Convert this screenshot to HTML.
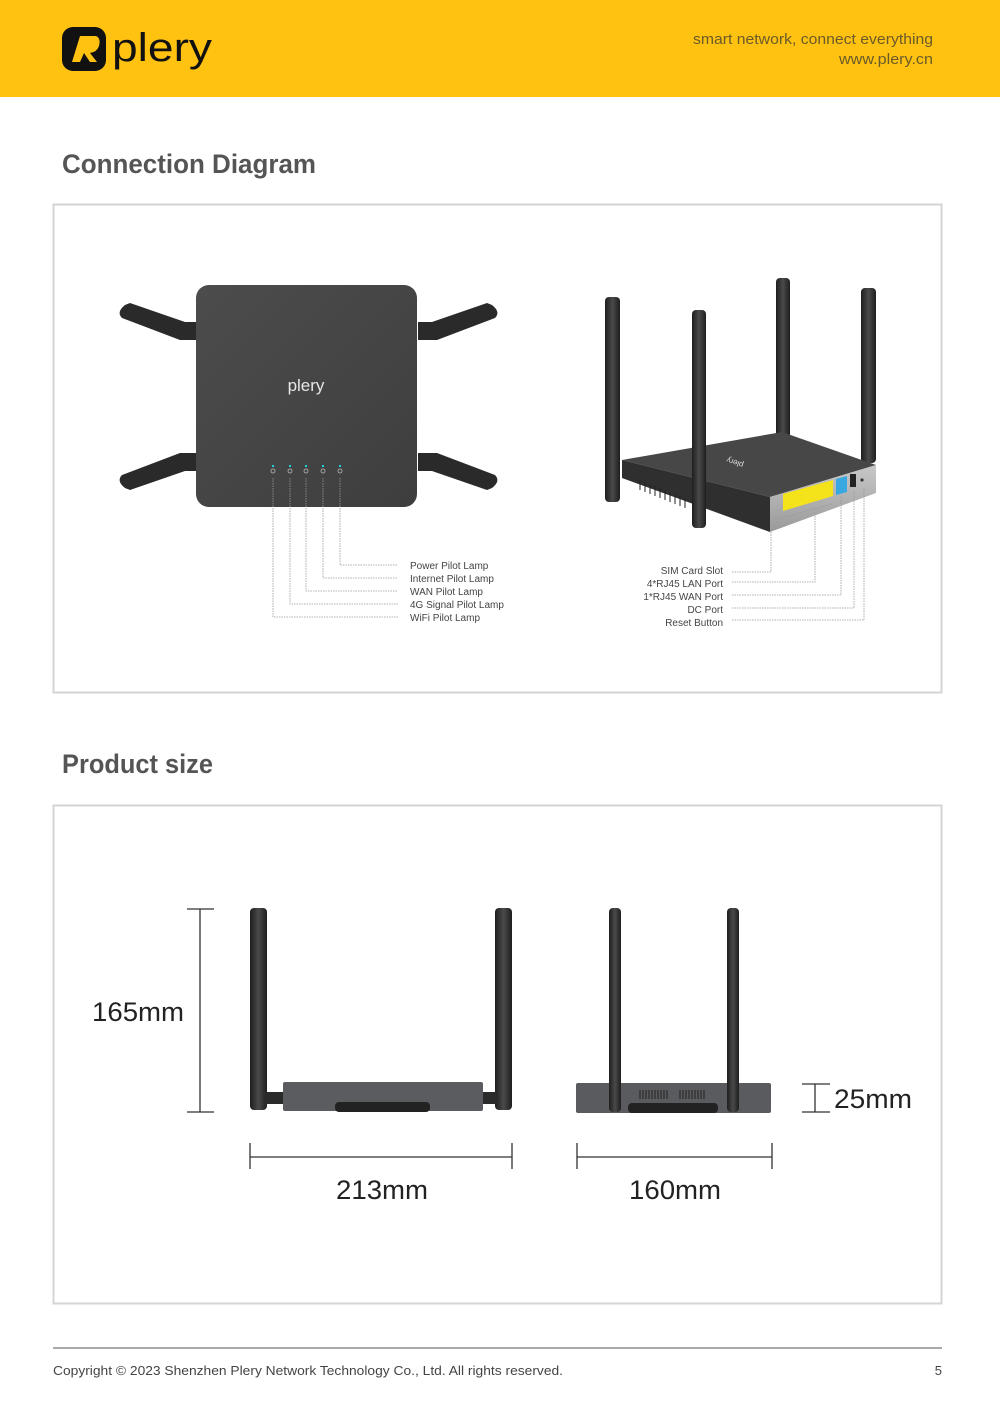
<!DOCTYPE html>
<html><head><meta charset="utf-8"><style>
html,body{margin:0;padding:0;background:#fff}
svg{display:block}
text{font-family:"Liberation Sans",sans-serif}
</style></head><body>
<svg width="1000" height="1414" viewBox="0 0 1000 1414" xmlns="http://www.w3.org/2000/svg">
<defs>
<linearGradient id="tg" x1="0" y1="0" x2="1" y2="1"><stop offset="0" stop-color="#4c4c4c"/><stop offset="1" stop-color="#3e3e3e"/></linearGradient>
<linearGradient id="ag" x1="0" y1="0" x2="1" y2="0"><stop offset="0" stop-color="#1e1e1e"/><stop offset="0.5" stop-color="#4a4a4a"/><stop offset="1" stop-color="#1e1e1e"/></linearGradient>
<linearGradient id="fg" x1="0" y1="0" x2="0" y2="1"><stop offset="0" stop-color="#c8c8c8"/><stop offset="1" stop-color="#9a9a9a"/></linearGradient>
</defs>
<!-- header -->
<rect x="0" y="0" width="1000" height="97" fill="#FFC211"/>
<rect x="62" y="27" width="44" height="44" rx="11" fill="#111"/>
<path d="M72 62 L80 36 L96 36 Q101 38 99 46 Q97 52 90 53 L97 62 L90 62 L84 53 L80 62 Z" fill="#FFC211"/>
<text x="112" y="61" font-size="40" fill="#111" textLength="100" lengthAdjust="spacingAndGlyphs">plery</text>
<text x="933" y="44" font-size="15" fill="#6b5a2a" text-anchor="end" textLength="240" lengthAdjust="spacingAndGlyphs">smart network, connect everything</text>
<text x="933" y="64" font-size="15" fill="#6b5a2a" text-anchor="end" textLength="94" lengthAdjust="spacingAndGlyphs">www.plery.cn</text>

<text x="62" y="173" font-size="27" font-weight="bold" fill="#555" textLength="254" lengthAdjust="spacingAndGlyphs">Connection Diagram</text>
<rect x="53.5" y="204.5" width="888" height="488" fill="none" stroke="#d4d4d4" stroke-width="2"/>

<!-- top-view router -->
<g>
<g fill="#2a2a2a">
<path d="M125 305 L130 303 L185 322 L196 322 L196 340 L180 340 L122 318 Q116 312 125 305Z"/>
<path d="M492 305 L487 303 L432 322 L418 322 L418 340 L437 340 L495 318 Q501 312 492 305Z"/>
<path d="M125 488 L130 490 L185 471 L196 471 L196 453 L180 453 L122 475 Q116 481 125 488Z"/>
<path d="M492 488 L487 490 L432 471 L418 471 L418 453 L437 453 L495 475 Q501 481 492 488Z"/>
</g>
<rect x="196" y="285" width="221" height="222" rx="13" fill="url(#tg)"/>
<text x="306" y="391" font-size="17" fill="#e6e6e6" text-anchor="middle">plery</text>
<g fill="#20d0d8"><rect x="272" y="465" width="2" height="2"/><rect x="289" y="465" width="2" height="2"/><rect x="305" y="465" width="2" height="2"/><rect x="322" y="465" width="2" height="2"/><rect x="339" y="465" width="2" height="2"/></g>
<g fill="none" stroke="#bbb" stroke-width="0.8"><circle cx="273" cy="471" r="2"/><circle cx="290" cy="471" r="2"/><circle cx="306" cy="471" r="2"/><circle cx="323" cy="471" r="2"/><circle cx="340" cy="471" r="2"/></g>
</g>
<g fill="none" stroke="#999" stroke-width="0.8" stroke-dasharray="1.5,1">
<path d="M340 478 V565 H398"/><path d="M323 478 V578 H398"/><path d="M306 478 V591 H398"/><path d="M290 478 V604 H398"/><path d="M273 478 V617 H398"/>
</g>
<g font-size="10" fill="#444">
<text x="410" y="569">Power Pilot Lamp</text>
<text x="410" y="582">Internet Pilot Lamp</text>
<text x="410" y="595">WAN Pilot Lamp</text>
<text x="410" y="608">4G Signal Pilot Lamp</text>
<text x="410" y="621">WiFi Pilot Lamp</text>
</g>

<!-- perspective router -->
<g>
<rect x="776" y="278" width="14" height="165" rx="4" fill="url(#ag)"/>
<rect x="861" y="288" width="15" height="175" rx="4" fill="url(#ag)"/>
<polygon points="622,460 782,432 876,465 770,497" fill="#474747"/>
<polygon points="622,460 770,497 770,532 622,478" fill="#2f2f2f"/>
<polygon points="770,497 876,465 876,493 770,532" fill="url(#fg)"/>
<g stroke="#222" stroke-width="1">
<path d="M640 480 V490 M645 482 V492 M650 484 V494 M655 486 V496 M660 488 V498 M665 490 V500 M670 492 V502 M675 494 V504 M680 496 V506 M685 498 V508"/>
</g>
<polygon points="783,494 833,480 833,496 783,511" fill="#f4e21a"/>
<polygon points="836,479 847,476 847,492 836,495" fill="#3aa8e0"/>
<rect x="850" y="474" width="6" height="13" fill="#222"/>
<circle cx="862" cy="480" r="1.6" fill="#333"/>
<text x="744" y="463" font-size="8" fill="#ddd" transform="rotate(-160 744 463)">plery</text>
<rect x="605" y="297" width="15" height="205" rx="4" fill="url(#ag)"/>
<rect x="692" y="310" width="14" height="218" rx="4" fill="url(#ag)"/>
</g>
<g fill="none" stroke="#999" stroke-width="0.8" stroke-dasharray="1.5,1">
<path d="M732 572 H771 V530"/><path d="M732 582 H815 V512"/><path d="M732 595 H841 V496"/><path d="M732 608 H854 V490"/><path d="M732 620 H864 V488"/>
<path d="M780 518 L832 504"/>
</g>
<g font-size="10" fill="#444" text-anchor="end">
<text x="723" y="574">SIM Card Slot</text>
<text x="723" y="587">4*RJ45 LAN Port</text>
<text x="723" y="600">1*RJ45 WAN Port</text>
<text x="723" y="613">DC Port</text>
<text x="723" y="626">Reset Button</text>
</g>

<text x="62" y="773" font-size="27" font-weight="bold" fill="#555" textLength="151" lengthAdjust="spacingAndGlyphs">Product size</text>
<rect x="53.5" y="805.5" width="888" height="498" fill="none" stroke="#d4d4d4" stroke-width="2"/>

<!-- front view -->
<rect x="250" y="908" width="17" height="202" rx="4" fill="url(#ag)"/>
<rect x="495" y="908" width="17" height="202" rx="4" fill="url(#ag)"/>
<rect x="265" y="1092" width="20" height="12" fill="#2a2a2a"/>
<rect x="477" y="1092" width="20" height="12" fill="#2a2a2a"/>
<rect x="283" y="1082" width="200" height="29" rx="2" fill="#5a5c60"/>
<rect x="335" y="1102" width="95" height="10" rx="4" fill="#222"/>
<!-- side view -->
<rect x="576" y="1083" width="195" height="30" rx="2" fill="#595b5f"/>
<rect x="628" y="1103" width="90" height="10" rx="4" fill="#222"/>
<g stroke="#222" stroke-width="1"><path d="M640 1090 V1099 M643 1090 V1099 M646 1090 V1099 M649 1090 V1099 M652 1090 V1099 M655 1090 V1099 M658 1090 V1099 M661 1090 V1099 M664 1090 V1099 M667 1090 V1099 M680 1090 V1099 M683 1090 V1099 M686 1090 V1099 M689 1090 V1099 M692 1090 V1099 M695 1090 V1099 M698 1090 V1099 M701 1090 V1099 M704 1090 V1099"/></g>
<rect x="609" y="908" width="12" height="204" rx="4" fill="url(#ag)"/>
<rect x="727" y="908" width="12" height="204" rx="4" fill="url(#ag)"/>

<!-- dimensions -->
<g stroke="#333" stroke-width="1.3" fill="none">
<path d="M187 909 H214 M200 909 V1112 M187 1112 H214"/>
<path d="M250 1143 V1169 M250 1157 H512 M512 1143 V1169"/>
<path d="M577 1143 V1169 M577 1157 H772 M772 1143 V1169"/>
<path d="M802 1084 H830 M815 1084 V1112 M802 1112 H830"/>
</g>
<g font-size="27" fill="#222">
<text x="92" y="1021" textLength="92" lengthAdjust="spacingAndGlyphs">165mm</text>
<text x="336" y="1199" textLength="92" lengthAdjust="spacingAndGlyphs">213mm</text>
<text x="629" y="1199" textLength="92" lengthAdjust="spacingAndGlyphs">160mm</text>
<text x="834" y="1108" textLength="78" lengthAdjust="spacingAndGlyphs">25mm</text>
</g>

<!-- footer -->
<rect x="53" y="1347" width="889" height="2" fill="#aaa"/>
<text x="53" y="1375" font-size="13" fill="#444" textLength="510" lengthAdjust="spacingAndGlyphs">Copyright © 2023 Shenzhen Plery Network Technology Co., Ltd. All rights reserved.</text>
<text x="942" y="1375" font-size="13" fill="#444" text-anchor="end">5</text>
</svg>
</body></html>
